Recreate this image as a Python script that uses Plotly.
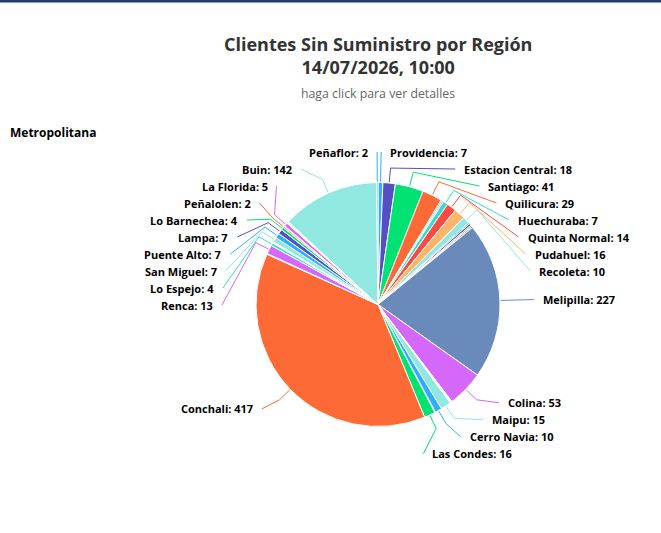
import math
import plotly.graph_objects as go

# ---------------- data ----------------
titulo = "Clientes Sin Suministro por Región"
fecha = "14/07/2026, 10:00"
subtitulo = "haga click para ver detalles"
region = "Metropolitana"

# slices in series order (clockwise from 12 o'clock); None = slice whose label is not shown
comunas = ["Providencia", "Estacion Central", "Santiago", "Quilicura", None, None,
           "Huechuraba", "Quinta Normal", "Pudahuel", "Recoleta", None, None, None, None,
           "Melipilla", "Colina", None, None, None, "Maipu", "Cerro Navia", None,
           "Las Condes", "Conchali", None, "Renca", "Lo Espejo", None, None,
           "San Miguel", "Puente Alto", "Lampa", "Lo Barnechea", "Peñalolen", None,
           "La Florida", None, None, None, "Buin", "Peñaflor"]
clientes = [7, 18, 41, 29, 2, 2,
            7, 14, 16, 10, 2, 3, 2, 2,
            227, 53, 1, 1, 1, 15, 10, 1,
            16, 417, 1, 13, 4, 1, 1,
            7, 7, 7, 4, 2, 1,
            5, 1, 1, 1, 142, 2]

paleta = ["#2caffe", "#544fc5", "#00e272", "#fe6a35", "#6b8abc",
          "#d568fb", "#2ee0ca", "#fa4b42", "#feb56a", "#91e8e1"]

# ---------------- layout constants (pixels) ----------------
W, H = 661, 533
CX, CY, R = 378.0, 304.5, 122.0      # pie centre / radius
DIST = 34.0                           # label x distance from the pie edge
DIST_Y = 28.0                         # label natural-y distance from the pie edge
BREAK = 15.0                          # connector break distance
GAP = 17.0                            # vertical spacing between labels
TOP, BOTTOM = 152.0, 520.0            # label area limits
PAD = 7.0                             # gap between connector end and text
FONT = "Open Sans"

colores = [paleta[i % len(paleta)] for i in range(len(clientes))]
total = float(sum(clientes))


def polar(ang, rad):
    return CX + rad * math.sin(ang), CY - rad * math.cos(ang)


# mid angles
mids = []
acc = 0.0
for v in clientes:
    a0 = acc / total * 2 * math.pi
    acc += v
    a1 = acc / total * 2 * math.pi
    mids.append((a0 + a1) / 2)

RL = R + DIST
labels_info = []
for i, name in enumerate(comunas):
    if name is None:
        continue
    ny = polar(mids[i], R + DIST_Y)[1]
    nyx = polar(mids[i], RL)[1]
    labels_info.append({"i": i, "side": "L" if mids[i] > math.pi else "R", "ny": ny, "nyx": nyx})


def distribute(items):
    items.sort(key=lambda d: d["ny"])
    clusters = [[d] for d in items]

    def place(cl):
        n = len(cl)
        start = sum(d["ny"] - k * GAP for k, d in enumerate(cl)) / n
        start = max(TOP, min(start, BOTTOM - (n - 1) * GAP))
        return start

    changed = True
    while changed:
        changed = False
        starts = [place(c) for c in clusters]
        for j in range(len(clusters) - 1):
            end_j = starts[j] + (len(clusters[j]) - 1) * GAP
            if starts[j + 1] < end_j + GAP:
                clusters[j] = clusters[j] + clusters[j + 1]
                del clusters[j + 1]
                changed = True
                break
    for c in clusters:
        s = place(c)
        for k, d in enumerate(c):
            d["y"] = s + k * GAP


distribute([d for d in labels_info if d["side"] == "R"])
distribute([d for d in labels_info if d["side"] == "L"])


def getx(y, side):
    dy = y - CY
    dx = math.sqrt(max(RL * RL - dy * dy, 0.0))
    return CX + dx if side == "R" else CX - dx


fig = go.Figure()

# connectors
for d in labels_info:
    i = d["i"]
    yy = d["y"]
    xx = getx(d["nyx"] if yy <= TOP + 0.5 else yy, d["side"])
    d["x"] = xx
    bx, by = polar(mids[i], R + BREAK)
    tx, ty = polar(mids[i], R + 1)
    fig.add_trace(go.Scatter(x=[xx, bx, tx], y=[yy, by, ty], mode="lines",
                             line=dict(color=colores[i], width=1),
                             hoverinfo="skip", showlegend=False))

# pie
fig.add_trace(go.Pie(
    values=clientes,
    hovertext=[f"{c}: {v}" if c else str(v) for c, v in zip(comunas, clientes)],
    hoverinfo="text",
    sort=False, direction="clockwise", rotation=0,
    marker=dict(colors=colores, line=dict(color="#ffffff", width=1)),
    textinfo="none",
    showlegend=False,
    domain=dict(x=[(CX - R) / W, (CX + R) / W], y=[1 - (CY + R) / H, 1 - (CY - R) / H]),
))

ann = []
for d in labels_info:
    i = d["i"]
    right = d["side"] == "R"
    ann.append(dict(
        x=d["x"] + (PAD if right else -PAD), y=d["y"], xref="x", yref="y",
        text=f"<b>{comunas[i]}: {clientes[i]}</b>", showarrow=False,
        xanchor="left" if right else "right", yanchor="middle",
        font=dict(family=FONT, size=11, color="#000000")))

ann.append(dict(x=CX, y=55, xref="x", yref="y", showarrow=False,
                text=f"<b>{titulo}</b><br><b>{fecha}</b>",
                xanchor="center", yanchor="middle",
                font=dict(family=FONT, size=18, color="#333333")))
ann.append(dict(x=CX, y=93, xref="x", yref="y", showarrow=False,
                text=subtitulo, xanchor="center", yanchor="middle",
                font=dict(family=FONT, size=12.3, color="#666666")))
ann.append(dict(x=8, y=132, xref="x", yref="y", showarrow=False,
                text=f"<b>{region}</b>", xanchor="left", yanchor="middle",
                font=dict(family=FONT, size=12, color="#000000")))

fig.update_layout(
    width=W, height=H,
    margin=dict(l=0, r=0, t=0, b=0),
    paper_bgcolor="#ffffff", plot_bgcolor="#ffffff",
    xaxis=dict(range=[0, W], visible=False, fixedrange=True, domain=[0, 1]),
    yaxis=dict(range=[H, 0], visible=False, fixedrange=True, domain=[0, 1]),
    annotations=ann,
    shapes=[dict(type="rect", xref="paper", yref="y", x0=0, x1=1, y0=0, y1=2.5,
                 fillcolor="#1e3a6e", line=dict(width=0), layer="above")],
    font=dict(family=FONT),
)

fig.write_html("out.html")
